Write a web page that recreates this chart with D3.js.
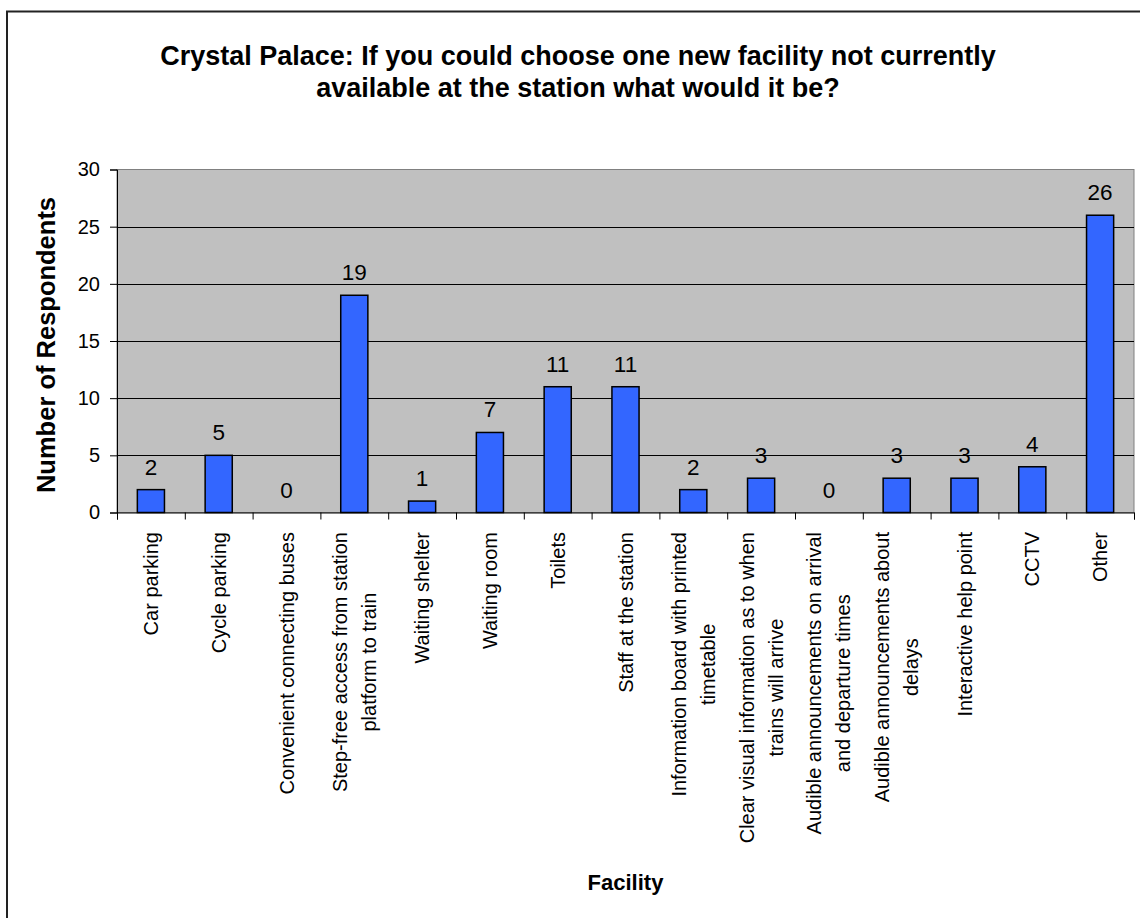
<!DOCTYPE html>
<html>
<head>
<meta charset="utf-8">
<script src="https://cdn.jsdelivr.net/npm/d3@7/dist/d3.min.js"></script>
<style>
  html, body { margin: 0; padding: 0; background: #ffffff; }
  svg { display: block; font-family: Arial, "Liberation Sans", sans-serif; }
</style>
</head>
<body>
<svg id="chart" width="1140" height="918"></svg>
<script>
// Survey responses per facility
const facilities = [
  ["Car parking"],
  ["Cycle parking"],
  ["Convenient connecting buses"],
  ["Step-free access from station", "platform to train"],
  ["Waiting shelter"],
  ["Waiting room"],
  ["Toilets"],
  ["Staff at the station"],
  ["Information board with printed", "timetable"],
  ["Clear visual information as to when", "trains will arrive"],
  ["Audible announcements on arrival", "and departure times"],
  ["Audible announcements about", "delays"],
  ["Interactive help point"],
  ["CCTV"],
  ["Other"]
];
const respondents = [2, 5, 0, 19, 1, 7, 11, 11, 2, 3, 0, 3, 3, 4, 26];
const yTicks = [0, 5, 10, 15, 20, 25, 30];
const titleLines = [
  "Crystal Palace: If you could choose one new facility not currently",
  "available at the station what would it be?"
];

const svg = d3.select("#chart");
const plot = { left: 117, right: 1134, top: 169.5, bottom: 512.5 };

// Outer chart frame
svg.append("rect")
  .attr("x", 7).attr("y", 11.5)
  .attr("width", 1160).attr("height", 930)
  .attr("fill", "#ffffff")
  .attr("stroke", "#222222").attr("stroke-width", 2);

const x = d3.scaleBand()
  .domain(d3.range(facilities.length))
  .range([plot.left, plot.right])
  .paddingInner(0.6).paddingOuter(0.3);

const xEdge = d3.scaleLinear()
  .domain([0, facilities.length])
  .range([plot.left, plot.right]);

const y = d3.scaleLinear().domain([0, 30]).range([plot.bottom, plot.top]);

// Plot background
svg.append("rect")
  .attr("x", plot.left).attr("y", plot.top)
  .attr("width", plot.right - plot.left).attr("height", plot.bottom - plot.top)
  .attr("fill", "#c0c0c0")
  .attr("stroke", "#808080").attr("stroke-width", 1);

// Gridlines
svg.append("g")
  .selectAll("line")
  .data(yTicks.filter(t => t > 0 && t < 30))
  .join("line")
  .attr("x1", plot.left).attr("x2", plot.right)
  .attr("y1", d => Math.round(y(d)) + 0.5).attr("y2", d => Math.round(y(d)) + 0.5)
  .attr("stroke", "#000000").attr("stroke-width", 1);

// Bars
svg.append("g")
  .selectAll("rect")
  .data(respondents)
  .join("rect")
  .attr("x", (d, i) => x(i))
  .attr("y", d => y(d))
  .attr("width", x.bandwidth())
  .attr("height", d => y(0) - y(d))
  .attr("fill", "#3366ff")
  .attr("stroke", "#000000").attr("stroke-width", 1.5);

// Value labels
svg.append("g")
  .selectAll("text")
  .data(respondents)
  .join("text")
  .attr("x", (d, i) => x(i) + x.bandwidth() / 2)
  .attr("y", d => y(d) - 15)
  .attr("text-anchor", "middle")
  .attr("font-size", 22.5)
  .attr("fill", "#000000")
  .text(d => d);

// Y axis
const yAxis = svg.append("g")
  .attr("transform", `translate(${plot.left},0)`)
  .call(d3.axisLeft(y).tickValues(yTicks).tickSize(7).tickPadding(10));
yAxis.select(".domain").attr("stroke", "#000000");
yAxis.selectAll(".tick line").attr("stroke", "#000000");
yAxis.selectAll(".tick text").attr("font-size", 20).attr("fill", "#000000")
  .attr("font-family", "Arial, 'Liberation Sans', sans-serif");

// X axis line and category boundary ticks
const xAxis = svg.append("g")
  .attr("transform", `translate(0,${plot.bottom})`)
  .call(d3.axisBottom(xEdge).tickValues(d3.range(facilities.length + 1)).tickSize(7).tickFormat(""));
xAxis.select(".domain").attr("stroke", "#000000");
xAxis.selectAll(".tick line").attr("stroke", "#000000");

// Rotated category labels
const labelTop = 532;
const lineGap = 29;
const labels = svg.append("g")
  .selectAll("g")
  .data(facilities)
  .join("g")
  .attr("transform", (d, i) => `translate(${x(i) + x.bandwidth() / 2},${labelTop}) rotate(-90)`);

labels.each(function (lines) {
  const g = d3.select(this);
  const texts = g.selectAll("text")
    .data(lines)
    .join("text")
    .attr("font-size", 20)
    .attr("fill", "#000000")
    .attr("text-anchor", "middle")
    .attr("y", (d, k) => (k - (lines.length - 1) / 2) * lineGap + 7)
    .text(d => d);
  let maxW = 0;
  texts.each(function () { maxW = Math.max(maxW, this.getComputedTextLength()); });
  texts.attr("x", -maxW / 2);
});

// Axis titles
svg.append("text")
  .attr("transform", `translate(55,${(plot.top + plot.bottom) / 2 + 4}) rotate(-90)`)
  .attr("text-anchor", "middle")
  .attr("font-size", 25.5).attr("font-weight", "bold")
  .text("Number of Respondents");

svg.append("text")
  .attr("x", (plot.left + plot.right) / 2).attr("y", 890)
  .attr("text-anchor", "middle")
  .attr("font-size", 22).attr("font-weight", "bold")
  .text("Facility");

// Chart title
svg.append("g")
  .selectAll("text")
  .data(titleLines)
  .join("text")
  .attr("x", 578)
  .attr("y", (d, i) => 65 + i * 32)
  .attr("text-anchor", "middle")
  .attr("font-size", 27).attr("font-weight", "bold")
  .text(d => d);
</script>
</body>
</html>
